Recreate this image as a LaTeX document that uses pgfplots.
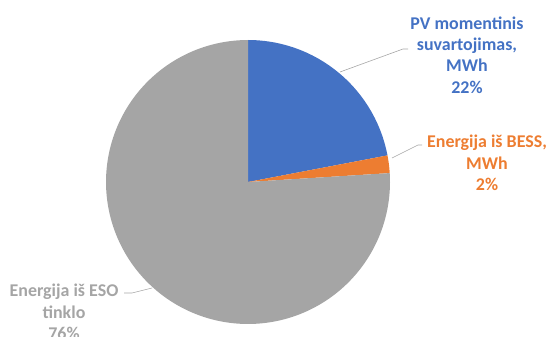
\documentclass[border=0pt]{standalone}
\usepackage{pgfplots}
\usepackage{pgfplotstable}
\pgfplotsset{compat=1.18}
\usepackage{fontspec}
\setmainfont{Carlito}
\definecolor{cblue}{HTML}{4472C4}
\definecolor{corange}{HTML}{ED7D31}
\definecolor{cgray}{HTML}{A5A5A5}
\definecolor{cline}{HTML}{A6A6A6}
\pgfplotstableread{
label value
PV 22
BESS 2
ESO 76
}\piedata
\pgfplotstablegetelem{0}{value}\of\piedata \let\vPV\pgfplotsretval
\pgfplotstablegetelem{1}{value}\of\piedata \let\vBESS\pgfplotsretval
\pgfplotstablegetelem{2}{value}\of\piedata \let\vESO\pgfplotsretval
\pgfmathsetmacro{\aA}{90}
\pgfmathsetmacro{\aB}{90-3.6*\vPV}
\pgfmathsetmacro{\aC}{\aB-3.6*\vBESS}
\pgfmathsetmacro{\aD}{\aC-3.6*\vESO}
\def\cx{248}\def\cy{155}\def\rr{142}
\begin{document}
\begin{tikzpicture}
\useasboundingbox (0,0) rectangle (549bp,337bp);
\begin{axis}[at={(0,0)},anchor=south west,
  width=549bp,height=337bp,scale only axis,hide axis,
  xmin=0,xmax=549,ymin=0,ymax=337,clip=false]
\addplot[draw=none,fill=cblue,domain=\aB:\aA,samples=60,variable=\t]
  ({\cx+\rr*cos(\t)},{\cy+\rr*sin(\t)}) -- (axis cs:\cx,\cy) -- cycle;
\addplot[draw=none,fill=corange,domain=\aC:\aB,samples=10,variable=\t]
  ({\cx+\rr*cos(\t)},{\cy+\rr*sin(\t)}) -- (axis cs:\cx,\cy) -- cycle;
\addplot[draw=none,fill=cgray,domain=\aD:\aC,samples=150,variable=\t]
  ({\cx+\rr*cos(\t)},{\cy+\rr*sin(\t)}) -- (axis cs:\cx,\cy) -- cycle;
% leader lines
\addplot[cline,line width=0.6pt] coordinates {(340,265) (403,288) (408,288)};
\addplot[cline,line width=0.6pt] coordinates {(392,179) (418,192) (422,192)};
\addplot[cline,line width=0.6pt] coordinates {(152,49) (132,44) (124,44)};
\node[align=center,text=cblue,font=\fontsize{18}{21.5}\selectfont\bfseries] at (axis cs:467,282)
  {PV momentinis\\suvartojimas,\\MWh\\22\%};
\node[align=center,text=corange,font=\fontsize{18}{21.5}\selectfont\bfseries] at (axis cs:487,174)
  {Energija iš BESS,\\MWh\\2\%};
\node[align=center,text=cgray,font=\fontsize{18}{21.5}\selectfont\bfseries] at (axis cs:64,25)
  {Energija iš ESO\\tinklo\\76\%};
\end{axis}
\end{tikzpicture}
\end{document}
